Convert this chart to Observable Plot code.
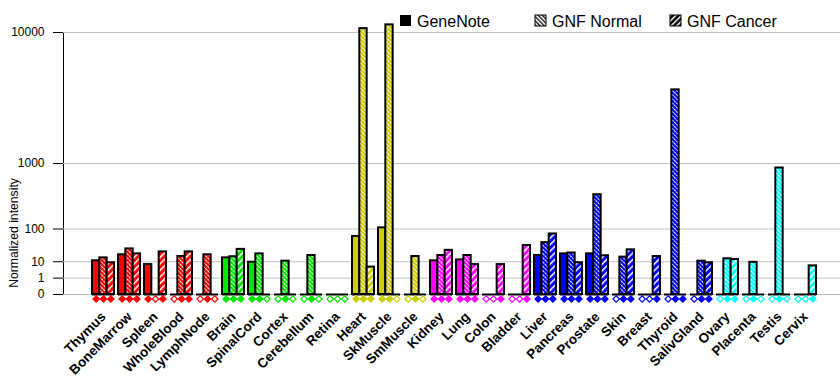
<!DOCTYPE html>
<html>
<head>
<meta charset="utf-8">
<script src="https://cdn.jsdelivr.net/npm/d3@7"></script>
<script src="https://cdn.jsdelivr.net/npm/@observablehq/plot@0.6"></script>
<style>
  html, body { margin: 0; padding: 0; background: white; }
  #wrap { position: relative; width: 840px; height: 385px; }
  #overlay { position: absolute; left: 0; top: 0; pointer-events: none; }
  g[aria-label="x-axis"] text, g[aria-label="x-axis tick label"] text {
    font-weight: bold; font-size: 13.5px;
  }
</style>
</head>
<body>
<div id="wrap"></div>
<script>
// ---- data ----
const tissues = ["Thymus","BoneMarrow","Spleen","WholeBlood","LymphNode",
  "Brain","SpinalCord","Cortex","Cerebellum","Retina",
  "Heart","SkMuscle","SmMuscle",
  "Kidney","Lung","Colon","Bladder",
  "Liver","Pancreas","Prostate","Skin","Breast","Thyroid","SalivGland",
  "Ovary","Placenta","Testis","Cervix"];
const tissueGroups = ["immune","immune","immune","immune","immune",
  "neural","neural","neural","neural","neural",
  "muscle","muscle","muscle",
  "organ","organ","organ","organ",
  "gland","gland","gland","gland","gland","gland","gland",
  "repro","repro","repro","repro"];
const groupNames = ["immune","neural","muscle","organ","gland","repro"];
const groupColors = ["#ff0000","#00e600","#cccc00","#ff00ff","#0000ff","#00ffff"];
const seriesNames = ["GeneNote","GNF Normal","GNF Cancer"];
const geneNote  = [11, 19, 7.4, 0, 0, 14.5, 9.5, 0, 0, 0, 67, 106, 0, 11, 12, 0, 0, 18, 20.5, 20.5, 0, 0, 0, 0, 0, 0, 0, 0];
const gnfNormal = [14.5, 30, 0, 16.4, 19, 16, 20.5, 10.6, 17.8, 0, 10500, 11000, 16.4, 17.8, 17.8, 0, 0, 46, 22, 405, 15.5, 0, 4400, 10.6, 13.3, 9.4, 890, 0];
const gnfCancer = [9, 20.5, 24, 24, 0, 29, 0, 0, 0, 0, 5.5, 0, 0, 27, 7.4, 7.4, 38, 77, 9, 17.5, 28, 16.4, 0, 9, 12.5, 0, 0, 6.4];
// present calls per tissue: GeneNote, GNF Normal, GNF Cancer (1 = present / filled diamond)
const presentCalls = ["111","111","101","011","010","111","110","010","010","000",
  "111","110","010","111","111","001","001","111","111","111","011","001","011","011",
  "011","010","010","001"];
const yTicks = [0, 1, 10, 100, 1000, 10000];
const yLabel = "Normalized intensity";

// ---- build table ----
const seriesValues = [geneNote, gnfNormal, gnfCancer];
const rows = [];
tissues.forEach((t, i) => {
  const g = tissueGroups[i];
  const color = groupColors[groupNames.indexOf(g)];
  seriesValues.forEach((vals, s) => {
    rows.push({tissue: t, group: g, color, series: s, value: vals[i], call: presentCalls[i][s] === "1"});
  });
});

const bandStart = 88, bandEnd = 819, padInner = 0.162;
const step = (bandEnd - bandStart) / (tissues.length - padInner);
const bw = step * (1 - padInner);
const sub = bw / 3;

const marks = [];
marks.push(Plot.ruleY(yTicks, {stroke: "#c0c0c0", strokeWidth: 1}));
marks.push(Plot.tickY(tissues, {x: d => d, y: d => 0, stroke: "black", strokeWidth: 2}));
groupNames.forEach((g, gi) => {
  [0, 1, 2].forEach(s => {
    const data = rows.filter(r => r.group === g && r.series === s && r.value > 0);
    const fill = s === 0 ? groupColors[gi] : `url(#pat-${s}-${gi})`;
    marks.push(Plot.barY(data, {
      x: "tissue", y1: d => 0, y2: "value",
      fill, stroke: "black", strokeWidth: 2,
      insetLeft: s * sub, insetRight: (2 - s) * sub
    }));
  });
});
[0, 1, 2].forEach(s => {
  marks.push(Plot.dot(rows.filter(r => r.series === s), {
    x: "tissue", y: d => 0, dy: 4.5, dx: (s - 1) * sub,
    symbol: "diamond2", r: 2.9,
    fill: d => d.call ? d.color : "white", stroke: "color", strokeWidth: 1.2
  }));
});

const chart = Plot.plot({
  width: 840, height: 385,
  marginLeft: 63, marginRight: 0, marginTop: 32, marginBottom: 91,
  style: {fontFamily: "'Liberation Sans', Arial, sans-serif", fontSize: "12px", color: "black", background: "white", overflow: "visible"},
  x: {type: "band", domain: tissues, range: [bandStart, bandEnd], paddingInner: padInner, paddingOuter: 0,
      tickSize: 0, tickPadding: 20, tickRotate: -45, label: null},
  y: {type: "pow", exponent: 0.30103, domain: [0, 10000], range: [294, 32],
      ticks: yTicks, tickFormat: d => String(d), tickSize: 10, tickPadding: 9, line: true, label: null},
  color: {type: "identity"},
  marks
});

const svg = chart.tagName.toLowerCase() === "svg" ? chart : chart.querySelector("svg");
const NS = "http://www.w3.org/2000/svg";
function el(name, attrs, parent) {
  const e = document.createElementNS(NS, name);
  for (const k in attrs) e.setAttribute(k, attrs[k]);
  if (parent) parent.appendChild(e);
  return e;
}
function addPatterns(defs) {
  groupColors.forEach((c, gi) => {
    const p1 = el("pattern", {id: `pat-1-${gi}`, patternUnits: "userSpaceOnUse", width: 3, height: 3, patternTransform: "rotate(-45)"}, defs);
    el("rect", {width: 3, height: 3, fill: c}, p1);
    el("line", {x1: 0.5, y1: 0, x2: 0.5, y2: 3, stroke: "white", "stroke-width": 1, "stroke-dasharray": "1.2 0.6"}, p1);
    const p2 = el("pattern", {id: `pat-2-${gi}`, patternUnits: "userSpaceOnUse", width: 4.6, height: 4.6, patternTransform: "rotate(45)"}, defs);
    el("rect", {width: 4.6, height: 4.6, fill: c}, p2);
    el("rect", {width: 1.5, height: 4.6, fill: "white"}, p2);
  });
}
const defs = el("defs", {});
svg.insertBefore(defs, svg.firstChild);
addPatterns(defs);

document.getElementById("wrap").appendChild(chart);

// ---- overlay: legend + y label ----
const ov = el("svg", {id: "overlay", width: 840, height: 385, viewBox: "0 0 840 385"});
const odefs = el("defs", {}, ov);
const ln = el("pattern", {id: "leg-1", patternUnits: "userSpaceOnUse", width: 3, height: 3, patternTransform: "rotate(-45)"}, odefs);
el("rect", {width: 3, height: 3, fill: "white"}, ln);
el("rect", {width: 1.3, height: 3, fill: "black"}, ln);
const lc = el("pattern", {id: "leg-2", patternUnits: "userSpaceOnUse", width: 4, height: 4, patternTransform: "rotate(45)"}, odefs);
el("rect", {width: 4, height: 4, fill: "black"}, lc);
el("rect", {width: 1.5, height: 4, fill: "white"}, lc);

const legendX = [400, 535, 670];
seriesNames.forEach((name, s) => {
  const x = legendX[s];
  el("rect", {x: x, y: 15, width: 11, height: 11,
    fill: s === 0 ? "black" : `url(#leg-${s})`, stroke: "black", "stroke-width": s === 0 ? 0 : 1}, ov);
  const t = el("text", {x: x + 17, y: 26.5, "font-family": "'Liberation Sans', Arial, sans-serif", "font-size": 16, fill: "black"}, ov);
  t.textContent = name;
});
const yl = el("text", {transform: "translate(18,233) rotate(-90)", "text-anchor": "middle",
  "font-family": "'Liberation Sans', Arial, sans-serif", "font-size": 12.2, fill: "black"}, ov);
yl.textContent = yLabel;
document.getElementById("wrap").appendChild(ov);
</script>
</body>
</html>
